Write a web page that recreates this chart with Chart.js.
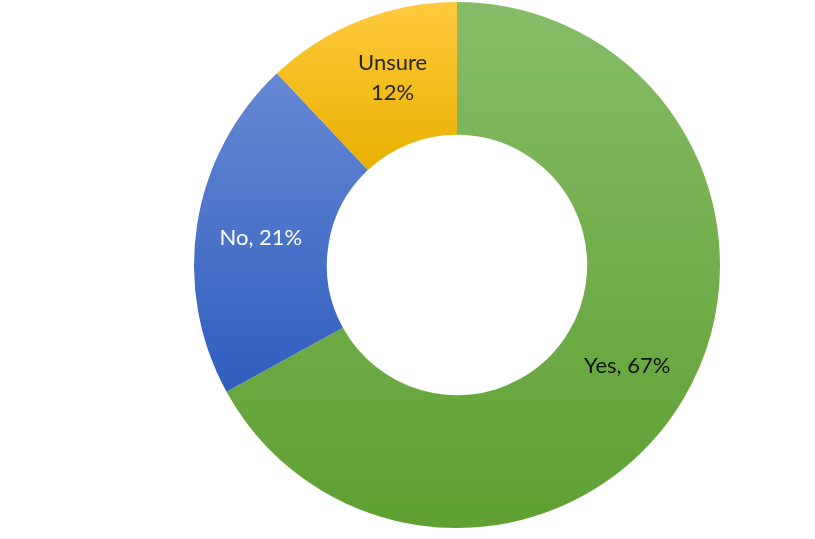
<!DOCTYPE html>
<html>
<head>
<meta charset="utf-8">
<script src="https://cdn.jsdelivr.net/npm/chart.js@4.4.0/dist/chart.umd.min.js"></script>
<style>
  html, body { margin: 0; padding: 0; background: #fff; }
  #wrap { width: 815px; height: 539px; }
</style>
</head>
<body>
<div id="wrap"><canvas id="answerChart"></canvas></div>
<script>
// chart data
var answerLabels = ['Yes', 'No', 'Unsure'];
var answerValues = [67, 21, 12];
var labelTexts = [['Yes, 67%'], ['No, 21%'], ['Unsure', '12%']];
var labelColors = ['#111111', '#ffffff', '#262626'];

// top / bottom colours of each slice, plus the vertical band (fraction of chart area) the gradient spans
var gradTop = ['#86bc67', '#6688d4', '#ffca3e'];
var gradBottom = ['#5fa032', '#2e5dbe', '#e8b000'];
var gradBand = [[0, 1], [0.14, 0.75], [0, 0.32]];

// small nudges of the label from the slice centre, like the hand placed ones in the original
var labelNudge = [[1, 1], [-2, 4], [8, -4]];

function sliceFill(context)
{
    var chart = context.chart;
    var area = chart.chartArea;
    var i = context.dataIndex;
    if (!area) {
        return gradBottom[i];
    }
    var h = area.bottom - area.top;
    var g = chart.ctx.createLinearGradient(0, area.top + h * gradBand[i][0], 0, area.top + h * gradBand[i][1]);
    g.addColorStop(0, gradTop[i]);
    g.addColorStop(1, gradBottom[i]);
    return g;
}

// draws the text labels at the middle of each slice
var sliceLabels = {
    id: 'sliceLabels',
    afterDatasetsDraw: function(chart) {
        var ctx = chart.ctx;
        var meta = chart.getDatasetMeta(0);
        ctx.save();
        ctx.font = '22px Lato';
        ctx.textAlign = 'center';
        ctx.textBaseline = 'middle';
        meta.data.forEach(function(arc, i) {
            var p = arc.getCenterPoint();
            var lines = labelTexts[i];
            var lh = 30;
            var y0 = p.y + labelNudge[i][1] - (lines.length - 1) * lh / 2;
            ctx.fillStyle = labelColors[i];
            for (var k = 0; k < lines.length; k++) {
                ctx.fillText(lines[k], p.x + labelNudge[i][0], y0 + k * lh);
            }
        });
        ctx.restore();
    }
};

var ctx = document.getElementById('answerChart');
var chart = new Chart(ctx, {
    type: 'doughnut',
    data: {
        labels: answerLabels,
        datasets: [{
            data: answerValues,
            backgroundColor: sliceFill,
            borderWidth: 0
        }]
    },
    options: {
        responsive: true,
        maintainAspectRatio: false,
        animation: false,
        cutout: '49.5%',
        layout: { padding: { top: 2, bottom: 11, left: 194, right: 95 } },
        plugins: {
            legend: { display: false },
            tooltip: { enabled: false }
        }
    },
    plugins: [sliceLabels]
});
</script>
</body>
</html>
